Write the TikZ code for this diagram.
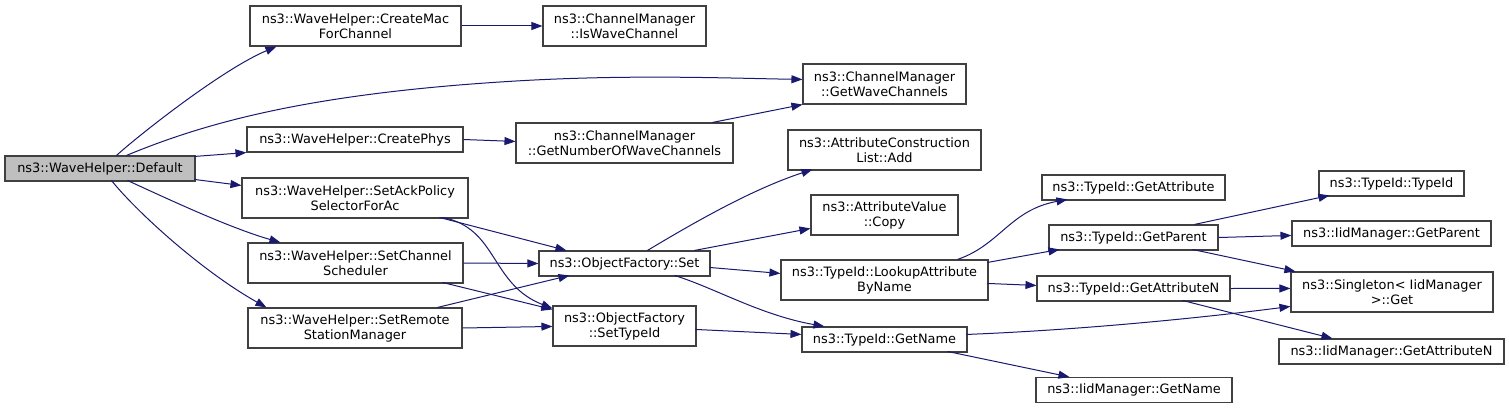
\documentclass[tikz,border=0pt]{standalone}
\usepackage{fontspec}
\setmainfont{DejaVu Sans}
\usetikzlibrary{arrows.meta,calc}
\definecolor{edgec}{RGB}{25,25,112}
\definecolor{boxc}{RGB}{64,64,64}
\definecolor{rootc}{RGB}{191,191,191}
\begin{document}
\begin{tikzpicture}[x=1pt,y=-1pt,
  box/.style={draw=boxc, line width=1.1pt, fill=white, inner sep=0pt, align=center,
    font=\fontsize{12.9}{15}\selectfont},
  edge/.style={draw=edgec, line width=1pt, -{Triangle[length=11pt,width=8pt]}}]
\useasboundingbox[fill=white] (0,0) rectangle (1509,409);

% column 0
\node[box, fill=rootc, minimum width=190pt, minimum height=25pt] (def) at (100,168.5) {ns3::WaveHelper::Default};
% column 1
\node[box, minimum width=211pt, minimum height=40pt] (cmac) at (355.5,26) {ns3::WaveHelper::CreateMac\\ForChannel};
\node[box, minimum width=216pt, minimum height=25pt] (phys) at (355,139.5) {ns3::WaveHelper::CreatePhys};
\node[box, minimum width=226pt, minimum height=40pt] (ack) at (355,198) {ns3::WaveHelper::SetAckPolicy\\SelectorForAc};
\node[box, minimum width=215pt, minimum height=40pt] (sched) at (355.5,263) {ns3::WaveHelper::SetChannel\\Scheduler};
\node[box, minimum width=214pt, minimum height=40pt] (rsm) at (355,328) {ns3::WaveHelper::SetRemote\\StationManager};
% column 2
\node[box, minimum width=163pt, minimum height=40pt] (iswc) at (624.5,26) {ns3::ChannelManager\\::IsWaveChannel};
\node[box, minimum width=217pt, minimum height=40pt] (gnwc) at (624.5,143) {ns3::ChannelManager\\::GetNumberOfWaveChannels};
\node[box, minimum width=171pt, minimum height=25pt] (ofs) at (624.5,263.5) {ns3::ObjectFactory::Set};
\node[box, minimum width=143pt, minimum height=40pt] (ofst) at (624.5,326) {ns3::ObjectFactory\\::SetTypeId};
% column 3
\node[box, minimum width=163pt, minimum height=40pt] (gwc) at (884.5,84) {ns3::ChannelManager\\::GetWaveChannels};
\node[box, minimum width=193pt, minimum height=40pt] (acl) at (884.5,150) {ns3::AttributeConstruction\\List::Add};
\node[box, minimum width=147pt, minimum height=40pt] (avc) at (884.5,215) {ns3::AttributeValue\\::Copy};
\node[box, minimum width=207pt, minimum height=40pt] (lab) at (884.5,280) {ns3::TypeId::LookupAttribute\\ByName};
\node[box, minimum width=165pt, minimum height=25pt] (gn) at (884.5,339.5) {ns3::TypeId::GetName};
% column 4
\node[box, minimum width=183pt, minimum height=25pt] (ga) at (1133.5,187.5) {ns3::TypeId::GetAttribute};
\node[box, minimum width=169pt, minimum height=25pt] (gp) at (1133.5,237.5) {ns3::TypeId::GetParent};
\node[box, minimum width=193pt, minimum height=25pt] (gan) at (1133.5,288.5) {ns3::TypeId::GetAttributeN};
\node[box, minimum width=196pt, minimum height=25pt] (ign) at (1134,390) {ns3::IidManager::GetName};
% column 5
\node[box, minimum width=145pt, minimum height=25pt] (tt) at (1391.5,183.5) {ns3::TypeId::TypeId};
\node[box, minimum width=199pt, minimum height=25pt] (igp) at (1391.5,233.5) {ns3::IidManager::GetParent};
\node[box, minimum width=202pt, minimum height=40pt] (sg) at (1392,292) {ns3::Singleton< IidManager\\ >::Get};
\node[box, minimum width=225pt, minimum height=25pt] (igan) at (1391.5,351.5) {ns3::IidManager::GetAttributeN};

% edges from Default
\draw[edge] ($(def.north west)+(112,0)$) .. controls (145,130) and (225,68) .. ($(cmac.south west)+(27,0)$);
\draw[edge] ($(def.north west)+(122,0)$) .. controls (200,125) and (300,95) .. (500,82)
  .. controls (620,74) and (720,78) .. ($(gwc.north west)+(0,16)$);
\draw[edge] ($(def.north west)+(190,1)$) -- (phys.south west);
\draw[edge] ($(def.north west)+(190,24)$) -- ($(ack.north west)+(0,8)$);
\draw[edge] ($(def.north west)+(123,25)$) .. controls (170,200) and (230,228) .. ($(sched.north west)+(33,0)$);
\draw[edge] ($(def.north west)+(107,25)$) .. controls (135,210) and (200,270) .. ($(rsm.north west)+(19,0)$);

% column 1 -> column 2
\draw[edge] (cmac.east) -- (iswc.west);
\draw[edge] (phys.east) -- ($(gnwc.north west)+(0,19)$);
\draw[edge] ($(gnwc.north west)+(197,0)$) -- (gwc.south west);
\draw[edge] ($(ack.north west)+(198,40)$) -- ($(ofs.north west)+(28,0)$);
\draw[edge] ($(ack.north west)+(201,40)$) .. controls (498,228) and (490,284) .. ($(ofst.north west)+(0,3)$);
\draw[edge] (sched.east) -- (ofs.west);
\draw[edge] ($(sched.north west)+(195,40)$) -- ($(ofst.north west)+(0,4)$);
\draw[edge] ($(rsm.north west)+(190,0)$) -- ($(ofs.north west)+(31,25)$);
\draw[edge] (rsm.east) -- ($(ofst.north west)+(0,21)$);

% column 2 -> column 3
\draw[edge] ($(ofs.north west)+(109,0)$) .. controls (690,225) and (750,190) .. ($(acl.north west)+(25,40)$);
\draw[edge] ($(ofs.north west)+(156,0)$) -- ($(avc.north west)+(0,34)$);
\draw[edge] ($(ofs.north west)+(171,17)$) -- ($(lab.north west)+(0,14)$);
\draw[edge] ($(ofs.north west)+(136,25)$) .. controls (715,288) and (760,315) .. ($(gn.north west)+(23,0)$);
\draw[edge] ($(ofst.north west)+(143,24)$) -- ($(gn.north west)+(0,8)$);

% column 3 -> column 4/5
\draw[edge] ($(lab.north west)+(177,0)$) .. controls (1000,245) and (1010,210) .. ($(ga.north west)+(26,25)$);
\draw[edge] ($(lab.north west)+(207,3)$) -- ($(gp.north west)+(11,25)$);
\draw[edge] ($(lab.north west)+(207,24)$) -- ($(gan.north west)+(0,10)$);
\draw[edge] ($(gn.north west)+(165,8)$) .. controls (1080,330) and (1200,318) .. ($(sg.north west)+(0,35)$);
\draw[edge] ($(gn.north west)+(146,25)$) -- ($(ign.north west)+(34,0)$);

% column 4 -> column 5
\draw[edge] ($(gp.north west)+(146,0)$) -- ($(tt.north west)+(11,25)$);
\draw[edge] (gp.east) -- ($(igp.north west)+(0,15)$);
\draw[edge] ($(gp.north west)+(144,25)$) -- ($(sg.north west)+(5,0)$);
\draw[edge] (gan.east) -- ($(sg.north west)+(0,17)$);
\draw[edge] ($(gan.north west)+(146,25)$) -- ($(igan.north west)+(54,0)$);
\end{tikzpicture}
\end{document}
